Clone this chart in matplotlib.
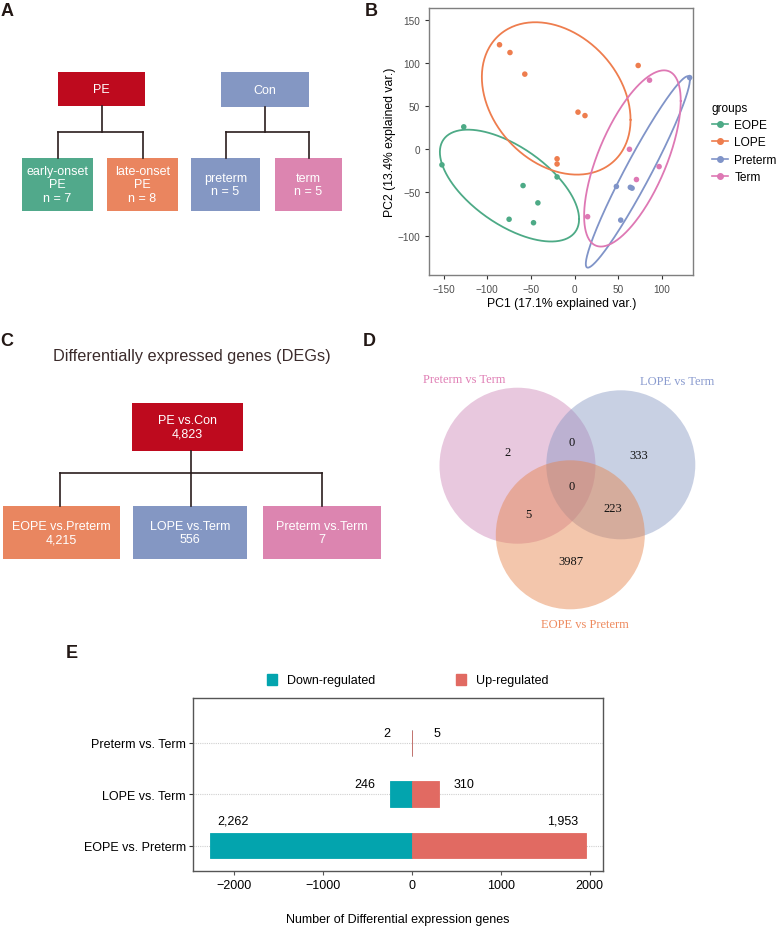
import numpy as np
import matplotlib
matplotlib.use("Agg")
import matplotlib.pyplot as plt
from matplotlib.patches import Rectangle, Circle, Patch
from matplotlib.lines import Line2D

plt.rcParams['font.family'] = ['Liberation Sans', 'DejaVu Sans']

W, H = 777, 928

# ---------------- data ----------------
# panel A: sample groups
a_top_labels = ["PE", "Con"]
a_top_colors = ["#BE0A1E", "#8497C3"]
a_sub_labels = ["early-onset\nPE\nn = 7", "late-onset\nPE\nn = 8", "preterm\nn = 5", "term\nn = 5"]
a_sub_colors = ["#51A98B", "#EA855F", "#8497C3", "#DC85B0"]

# panel B: PCA scores
groups = ["EOPE", "LOPE", "Preterm", "Term"]
group_colors = ["#4DAA86", "#EE7D4E", "#8094C8", "#DE78B4"]
eope_pc1 = [-127, -152, -20, -59, -42, -75, -47]
eope_pc2 = [26, -18, -32, -42, -62, -81, -85]
lope_pc1 = [-86, -74, -57, 4, 12, -20, -20, 73]
lope_pc2 = [121, 112, 87, 43, 39, -11, -17, 97]
preterm_pc1 = [132, 48, 64, 66, 53]
preterm_pc2 = [83, -43, -44, -45, -82]
term_pc1 = [86, 63, 97, 71, 15]
term_pc2 = [80, 0, -20, -35, -78]

# panel C: DEG counts
c_root_label = "PE vs.Con"
c_root_count = 4823
c_sub_labels = ["EOPE vs.Preterm", "LOPE vs.Term", "Preterm vs.Term"]
c_sub_counts = [4215, 556, 7]
c_sub_colors = ["#E98660", "#8497C3", "#DC85B0"]

# panel D: venn
venn_names = ["Preterm vs Term", "LOPE vs Term", "EOPE vs Preterm"]
venn_colors = ["#CD85B7", "#8797C3", "#E58147"]
venn_text_colors = ["#E07FB5", "#8A9BCF", "#EE8A5E"]
venn_counts = {"100": 2, "010": 333, "001": 3987, "110": 0, "101": 5, "011": 223, "111": 0}

# panel E: up / down regulated
e_cats = ["EOPE vs. Preterm", "LOPE vs. Term", "Preterm vs. Term"]
e_down = [2262, 246, 2]
e_up = [1953, 310, 5]
down_color = "#03A4AE"
up_color = "#E16A62"

dark = "#2B1E1E"

fig = plt.figure(figsize=(W / 100, H / 100), dpi=100)
ax0 = fig.add_axes([0, 0, 1, 1])
ax0.set_xlim(0, W)
ax0.set_ylim(H, 0)
ax0.axis("off")


def box(ax, x0, y0, x1, y1, color, text, fs=9):
    ax.add_patch(Rectangle((x0, y0), x1 - x0, y1 - y0, facecolor=color, edgecolor="none"))
    ax.text((x0 + x1) / 2, (y0 + y1) / 2, text, color="white", fontsize=fs,
            ha="center", va="center", linespacing=1.2)


def tree(ax, px, py0, ymid, child_xs, ychild):
    ax.plot([px, px], [py0, ymid], color=dark, lw=1.2)
    ax.plot([min(child_xs), max(child_xs)], [ymid, ymid], color=dark, lw=1.2)
    for cx in child_xs:
        ax.plot([cx, cx], [ymid, ychild], color=dark, lw=1.2)


# panel letters
for lab, (lx, ly) in zip("ABCDE", [(1, 3), (365, 3), (0, 333), (363, 333), (66, 645)]):
    ax0.text(lx, ly, lab, fontsize=13, fontweight="bold", va="top", ha="left", color="#231815")

# ---------------- panel A ----------------
top_boxes = [(58, 73, 145, 107), (221, 73, 309, 108)]
sub_boxes = [(22, 159, 93, 212), (107, 159, 178, 212), (191, 159, 260, 212), (275, 159, 342, 212)]
for (x0, y0, x1, y1), c, t in zip(top_boxes, a_top_colors, a_top_labels):
    box(ax0, x0, y0, x1, y1, c, t)
for (x0, y0, x1, y1), c, t in zip(sub_boxes, a_sub_colors, a_sub_labels):
    box(ax0, x0, y0, x1, y1, c, t)
for i, (x0, y0, x1, y1) in enumerate(top_boxes):
    kids = sub_boxes[2 * i:2 * i + 2]
    tree(ax0, (x0 + x1) / 2, y1, 133, [(k[0] + k[2]) / 2 for k in kids], 159)

# ---------------- panel B ----------------
axB = fig.add_axes([429.3 / W, 1 - 276 / H, (693.3 - 429.3) / W, (276 - 9.3) / H])
pcs = [(eope_pc1, eope_pc2), (lope_pc1, lope_pc2), (preterm_pc1, preterm_pc2), (term_pc1, term_pc2)]


def ellipse_pts(x, y, level=0.68, n=300):
    x = np.asarray(x, float)
    y = np.asarray(y, float)
    dfd = len(x) - 1
    f = dfd / 2 * ((1 - level) ** (-2 / dfd) - 1)
    r = np.sqrt(2 * f)
    L = np.linalg.cholesky(np.cov(x, y))
    t = np.linspace(0, 2 * np.pi, n)
    e = L @ np.vstack([np.cos(t), np.sin(t)]) * r
    return x.mean() + e[0], y.mean() + e[1]


for (x, y), c in zip(pcs, group_colors):
    ex, ey = ellipse_pts(x, y)
    axB.plot(ex, ey, color=c, lw=1.3, zorder=2)
    axB.scatter(x, y, s=16, color=c, zorder=3, edgecolors="none")

axB.set_xlim(-166.5, 136.2)
axB.set_ylim(-145.5, 163.2)
axB.set_xticks([-150, -100, -50, 0, 50, 100])
axB.set_yticks([-100, -50, 0, 50, 100, 150])
axB.tick_params(labelsize=7.2, labelcolor="#4D4D4D", color="#333333", length=3, width=0.8)
for s in axB.spines.values():
    s.set_color("#7F7F7F")
    s.set_linewidth(1.0)
axB.set_xlabel("PC1 (17.1% explained var.)", fontsize=8.8, labelpad=2)
axB.set_ylabel("PC2 (13.4% explained var.)", fontsize=8.8, labelpad=1)

handles = [Line2D([0], [0], color=c, marker="o", markersize=4, lw=1.2) for c in group_colors]
fig.legend(handles, groups, title="groups", loc="upper left", bbox_to_anchor=(701 / W, 1 - 92 / H),
           frameon=False, fontsize=8.6, title_fontsize=8.6, handlelength=1.4, handletextpad=0.5,
           labelspacing=0.45, alignment="left")

# ---------------- panel C ----------------
ax0.text(192, 357, "Differentially expressed genes (DEGs)", fontsize=11.7, ha="center", va="center", color="#3B2B2B")
root = (132, 404, 243, 452)
box(ax0, *root, "#BE0A1E", f"{c_root_label}\n{c_root_count:,}")
c_boxes = [(3, 507, 120, 560), (133, 507, 247, 560), (263, 507, 381, 560)]
for (x0, y0, x1, y1), c, t, n in zip(c_boxes, c_sub_colors, c_sub_labels, c_sub_counts):
    box(ax0, x0, y0, x1, y1, c, f"{t}\n{n:,}")
tree(ax0, 190.7, 452, 474, [60, 190.7, 322.3], 507)

# ---------------- panel D ----------------
circles = [(517.5, 466.7, 78), (620.8, 465.8, 74.5), (570.3, 535.8, 74.5)]
for (cx, cy, r), c in zip(circles, venn_colors):
    ax0.add_patch(Circle((cx, cy), r, facecolor=c, edgecolor="none", alpha=0.45))
name_pos = [(464, 380), (677, 382), (585, 625)]
for (tx, ty), name, c in zip(name_pos, venn_names, venn_text_colors):
    ax0.text(tx, ty, name, fontsize=9, family="Liberation Serif", color=c, ha="center", va="center")
count_pos = {"100": (508, 453), "110": (572, 443), "010": (639, 456), "111": (572, 487),
             "101": (528, 515), "011": (613, 509), "001": (571, 562)}
for k, v in venn_counts.items():
    ax0.text(*count_pos[k], str(v), fontsize=9, family="Liberation Serif", color="#111111",
             ha="center", va="center")

# ---------------- panel E ----------------
axE = fig.add_axes([192.7 / W, 1 - 871.7 / H, (603 - 192.7) / W, (871.7 - 699) / H])
ypos = np.arange(len(e_cats))
down_vals = -np.array(e_down)
up_vals = np.array(e_up)
axE.barh(ypos, down_vals, height=0.5, color=down_color, edgecolor=down_color, lw=0.6, zorder=3)
axE.barh(ypos, up_vals, height=0.5, color=up_color, edgecolor=up_color, lw=0.6, zorder=3)
for yy, dv, uv in zip(ypos, e_down, e_up):
    for val, sign in ((dv, -1), (uv, 1)):
        big = val >= 1000
        dx = -23 * sign if big else 25 * sign
        dy = 25 if big else 10
        axE.annotate(f"{val:,}", (sign * val, yy), xytext=(dx * 0.72, dy * 0.72),
                     textcoords="offset points", ha="center", va="center", fontsize=9)
axE.set_xlim(-2461, 2149)
axE.set_ylim(-0.49, 2.87)
axE.set_yticks(ypos)
axE.set_yticklabels(e_cats)
axE.set_xticks([-2000, -1000, 0, 1000, 2000])
axE.yaxis.grid(True, color="#D0D0D0", linestyle=(0, (1, 1)), lw=0.8)
axE.set_axisbelow(True)
axE.tick_params(axis="y", labelsize=9, length=3, color="#333333", pad=2)
axE.tick_params(axis="x", labelsize=9, length=3, color="#555555", pad=3)
for s in axE.spines.values():
    s.set_color("#555555")
    s.set_linewidth(1.0)
axE.set_xlabel("Number of Differential expression genes", fontsize=9, labelpad=16)

fig.legend([Patch(color=down_color), Patch(color=up_color)], ["Down-regulated", "Up-regulated"],
           loc="center", bbox_to_anchor=(408 / W, 1 - 681 / H), ncol=2, frameon=False, fontsize=9,
           handlelength=0.8, handleheight=1.0, handletextpad=0.8, columnspacing=6.5)

fig.savefig("out.png", dpi=100)
